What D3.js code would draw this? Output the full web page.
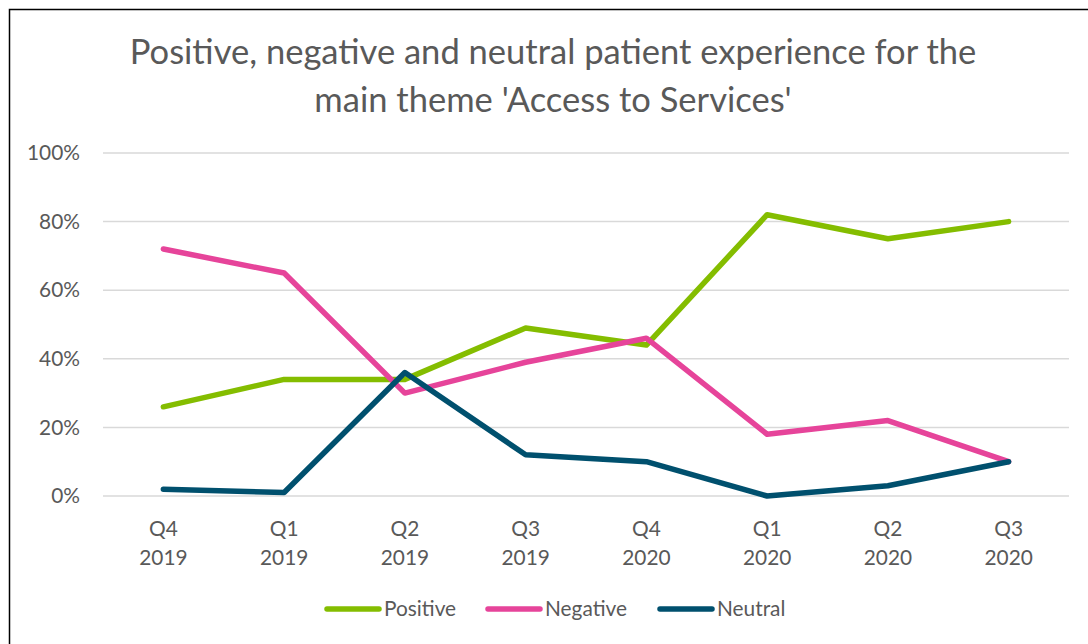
<!DOCTYPE html>
<html>
<head>
<meta charset="utf-8">
<script src="https://cdn.jsdelivr.net/npm/d3@7"></script>
<style>
  html, body { margin: 0; padding: 0; background: #fff; }
  svg { display: block; }
  text { font-family: Lato, "Open Sans", sans-serif; fill: #595959; }
</style>
</head>
<body>
<svg id="chart" width="1088" height="644"></svg>
<script>
// Quarters shown on the x axis (two-line labels)
const quarters = ["Q4", "Q1", "Q2", "Q3", "Q4", "Q1", "Q2", "Q3"];
const years    = ["2019", "2019", "2019", "2019", "2020", "2020", "2020", "2020"];

// Share of feedback (%) per quarter
const positive = [26, 34, 34, 49, 44, 82, 75, 80];
const negative = [72, 65, 30, 39, 46, 18, 22, 10];
const neutral  = [2, 1, 36, 12, 10, 0, 3, 10];

const seriesNames  = ["Positive", "Negative", "Neutral"];
const seriesColors = ["#84BD00", "#E6449A", "#00506E"];
const yTicks = [0, 20, 40, 60, 80, 100];

const titleLines = [
  "Positive, negative and neutral patient experience for the",
  "main theme 'Access to Services'"
];

const series = [positive, negative, neutral].map((vals, i) => ({
  name: seriesNames[i],
  color: seriesColors[i],
  values: vals.map((v, j) => ({ idx: j, v }))
}));

const svg = d3.select("#chart");
const plot = { left: 103, right: 1069, top: 153, bottom: 496 };

// Chart frame (left and top edges visible)
svg.append("path")
  .attr("d", "M9.5,644 L9.5,9.5 L1088,9.5")
  .attr("fill", "none")
  .attr("stroke", "#000")
  .attr("stroke-width", 1.5);

const x = d3.scaleBand()
  .domain(d3.range(quarters.length))
  .range([plot.left, plot.right]);

const y = d3.scaleLinear()
  .domain([0, 100])
  .range([plot.bottom, plot.top]);

// Helper: font size that gives a sample string the wanted width
function fitSize(sample, targetWidth, refSize) {
  const t = svg.append("text").attr("font-size", refSize).text(sample);
  const w = t.node().getComputedTextLength();
  t.remove();
  return refSize * targetWidth / w;
}

const axisSize = fitSize("Negative", 82, 20);
const titleSize = fitSize(titleLines[0], 847, 30);

// Gridlines
svg.append("g")
  .selectAll("line")
  .data(yTicks)
  .join("line")
  .attr("x1", plot.left)
  .attr("x2", plot.right)
  .attr("y1", d => y(d))
  .attr("y2", d => y(d))
  .attr("stroke", "#d9d9d9")
  .attr("stroke-width", 1.5);

// Y axis labels
const yAxis = d3.axisLeft(y)
  .tickValues(yTicks)
  .tickFormat(d => d + "%")
  .tickSize(0)
  .tickPadding(0);
const yG = svg.append("g")
  .attr("transform", `translate(80,0)`)
  .call(yAxis);
yG.select(".domain").remove();
yG.selectAll("text")
  .attr("font-size", axisSize)
  .attr("fill", "#595959")
  .style("font-family", "Lato, 'Open Sans', sans-serif");

// X axis labels (quarter over year)
const xAxis = d3.axisBottom(x)
  .tickFormat(() => "")
  .tickSize(0);
const xG = svg.append("g")
  .attr("transform", `translate(0,${plot.bottom})`)
  .call(xAxis);
xG.select(".domain").remove();
xG.selectAll(".tick text").each(function (d) {
  const t = d3.select(this)
    .attr("y", 0)
    .attr("dy", null)
    .attr("font-size", axisSize)
    .attr("fill", "#595959")
    .style("font-family", "Lato, 'Open Sans', sans-serif");
  t.append("tspan").attr("x", 0).attr("y", 40).text(quarters[d]);
  t.append("tspan").attr("x", 0).attr("y", 69).text(years[d]);
});

// Series lines
const line = d3.line()
  .x(d => x(d.idx) + x.bandwidth() / 2)
  .y(d => y(d.v));

svg.append("g")
  .selectAll("path")
  .data(series)
  .join("path")
  .attr("d", d => line(d.values))
  .attr("fill", "none")
  .attr("stroke", d => d.color)
  .attr("stroke-width", 5.5)
  .attr("stroke-linejoin", "round")
  .attr("stroke-linecap", "round");

// Title
svg.append("g")
  .selectAll("text")
  .data(titleLines)
  .join("text")
  .attr("x", 553)
  .attr("y", (d, i) => 64 + i * 48)
  .attr("text-anchor", "middle")
  .attr("font-size", titleSize)
  .text(d => d);

// Legend
const legendStarts = [325, 486, 658];
const legendY = 609;
const lg = svg.append("g")
  .selectAll("g")
  .data(series)
  .join("g")
  .attr("transform", (d, i) => `translate(${legendStarts[i]},${legendY})`);
lg.append("line")
  .attr("x1", 2).attr("x2", 54)
  .attr("y1", 0).attr("y2", 0)
  .attr("stroke", d => d.color)
  .attr("stroke-width", 5.5)
  .attr("stroke-linecap", "round");
lg.append("text")
  .attr("x", 59)
  .attr("y", 0)
  .attr("dy", "0.35em")
  .attr("font-size", axisSize)
  .text(d => d.name);
</script>
</body>
</html>
